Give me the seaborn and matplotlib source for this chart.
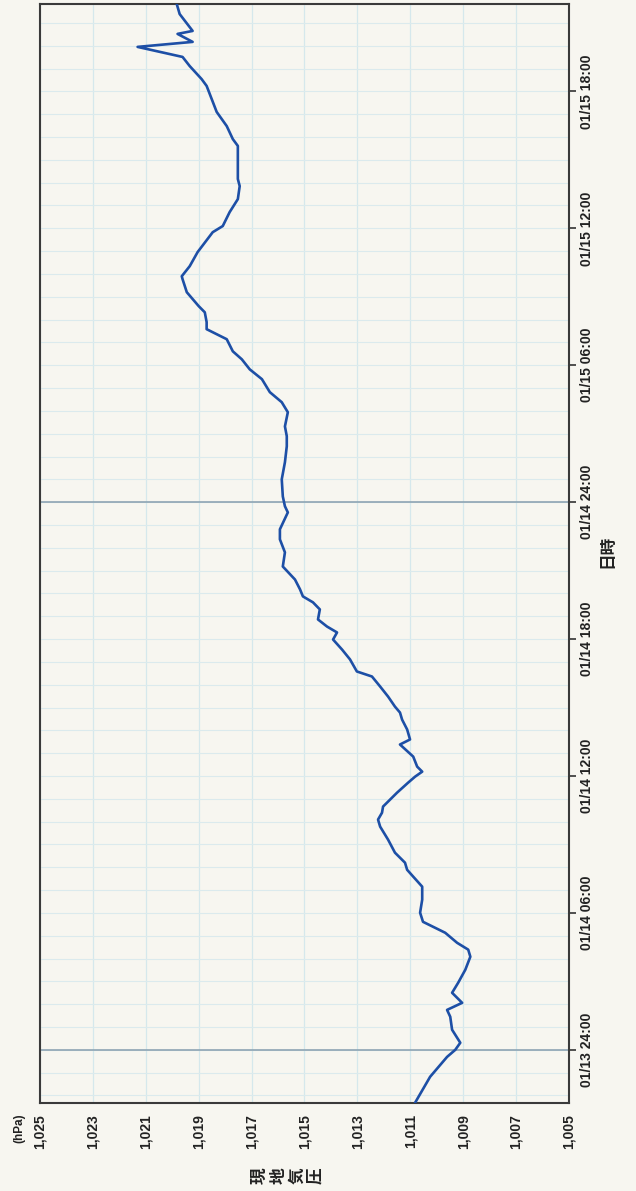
import numpy as np
import pandas as pd
import matplotlib
matplotlib.use("Agg")
import matplotlib.pyplot as plt
import seaborn as sns

# hours counted from 01/13 00:00, pressure in hPa
hours = [21.68, 22.82, 23.69, 24.00, 24.31, 24.88, 25.45, 25.75, 26.06, 26.50,
         26.94, 27.51, 28.08, 28.39, 28.69, 29.13, 29.61, 30.01, 30.58, 31.15,
         31.59, 31.89, 32.20, 32.64, 33.21, 33.78, 34.09, 34.39, 34.66, 35.27,
         35.71, 35.97, 36.19, 36.41, 36.85, 37.38, 37.60, 38.04, 38.47, 38.78,
         39.04, 39.48, 39.92, 40.36, 40.58, 41.11, 41.54, 41.98, 42.29, 42.55,
         42.86, 43.30, 43.61, 43.87, 44.18, 44.61, 45.18, 45.80, 46.37, 46.81,
         47.55, 47.82, 48.25, 49.00, 49.75, 50.45, 50.89, 51.32, 51.94, 52.38,
         52.82, 53.39, 53.82, 54.26, 54.61, 55.14, 55.58, 55.89, 56.32, 56.59,
         57.20, 57.77, 57.90, 58.34, 58.96, 59.83, 60.10, 60.71, 61.28, 61.85,
         62.16, 62.73, 63.61, 63.91, 64.48, 65.10, 65.67, 66.24, 66.54, 67.11,
         67.51, 67.95, 68.17, 68.52, 68.65, 69.39, 69.83]
pressure = [1010.82, 1010.25, 1009.61, 1009.30, 1009.11, 1009.42, 1009.49, 1009.61, 1009.04, 1009.42,
            1009.19, 1008.92, 1008.73, 1008.81, 1009.23, 1009.68, 1010.52, 1010.63, 1010.55, 1010.55,
            1010.89, 1011.12, 1011.20, 1011.58, 1011.84, 1012.14, 1012.22, 1012.07, 1012.03, 1011.50,
            1011.08, 1010.82, 1010.55, 1010.74, 1010.89, 1011.39, 1011.01, 1011.12, 1011.31, 1011.39,
            1011.58, 1011.84, 1012.14, 1012.45, 1013.02, 1013.28, 1013.58, 1013.92, 1013.77, 1014.15,
            1014.49, 1014.42, 1014.68, 1015.06, 1015.17, 1015.36, 1015.82, 1015.74, 1015.93, 1015.93,
            1015.63, 1015.74, 1015.82, 1015.86, 1015.74, 1015.67, 1015.67, 1015.74, 1015.63, 1015.86,
            1016.31, 1016.61, 1017.07, 1017.37, 1017.71, 1017.94, 1018.70, 1018.70, 1018.77, 1019.00,
            1019.45, 1019.61, 1019.64, 1019.34, 1019.04, 1018.47, 1018.09, 1017.83, 1017.52, 1017.45,
            1017.52, 1017.52, 1017.52, 1017.71, 1017.94, 1018.32, 1018.51, 1018.70, 1018.89, 1019.34,
            1019.61, 1021.31, 1019.23, 1019.80, 1019.23, 1019.72, 1019.83]

time_ticks = [24, 30, 36, 42, 48, 54, 60, 66]
time_labels = ["01/13 24:00", "01/14 06:00", "01/14 12:00", "01/14 18:00",
               "01/14 24:00", "01/15 06:00", "01/15 12:00", "01/15 18:00"]
day_lines = [24, 48]
p_ticks = list(range(1005, 1027, 2))

df = pd.DataFrame({"hours": hours, "pressure": pressure})

sns.set_style("white")
plt.rcParams["font.family"] = ["Liberation Sans", "Noto Sans CJK JP", "DejaVu Sans"]

paper = "#f7f6f0"
fig = plt.figure(figsize=(6.36, 11.91), dpi=100, facecolor=paper)
ax = fig.add_axes([40 / 636, 1 - 1103 / 1191, 529 / 636, 1099 / 1191])
ax.set_facecolor(paper)

# grid: every 2 hPa and every hour
for p in p_ticks:
    ax.axvline(p, color="#d5e8ec", lw=0.9, zorder=0)
for h in np.arange(22, 70):
    ax.axhline(h, color="#dbeaed", lw=0.8, zorder=0)
for d in day_lines:
    ax.axhline(d, color="#8ea4b3", lw=1.2, zorder=1)

sns.lineplot(data=df, x="pressure", y="hours", sort=False, estimator=None,
             color="#1d4fa6", lw=1.9, ax=ax, zorder=3)

ax.set_xlim(1025, 1005)
ax.set_ylim(21.67, 69.83)
ax.set_xticks(p_ticks)
ax.set_xticklabels(["{:,}".format(p) for p in p_ticks], rotation=90,
                   fontsize=10, fontweight="bold", color="#222222")
ax.yaxis.tick_right()
ax.set_yticks(time_ticks)
ax.set_yticklabels(time_labels, rotation=90, va="center",
                   fontsize=10, fontweight="bold", color="#222222")
ax.tick_params(axis="both", direction="out", length=5, width=1.2, color="#333333", pad=3)
ax.set_xlabel("")
ax.set_ylabel("")
for s in ax.spines.values():
    s.set_visible(True)
    s.set_color("#3a3a3a")
    s.set_linewidth(1.5)

fig.text(19 / 636, 1 - 1128 / 1191, "(hPa)", rotation=90, ha="center", va="center",
         fontsize=8.5, fontweight="bold", color="#222222")
for i, ch in enumerate("現地気圧"):
    fig.text((260 + i * 18.5) / 636, 1 - 1176 / 1191, ch, rotation=90,
             ha="center", va="center", fontsize=12, fontweight="bold",
             family=["Noto Sans CJK JP"], color="#222222")
fig.text(607 / 636, 1 - 551 / 1191, "日時", rotation=90, ha="center", va="center",
         fontsize=12, fontweight="bold", family=["Noto Sans CJK JP"], color="#222222")

fig.savefig("out.png", dpi=100, facecolor=paper)
